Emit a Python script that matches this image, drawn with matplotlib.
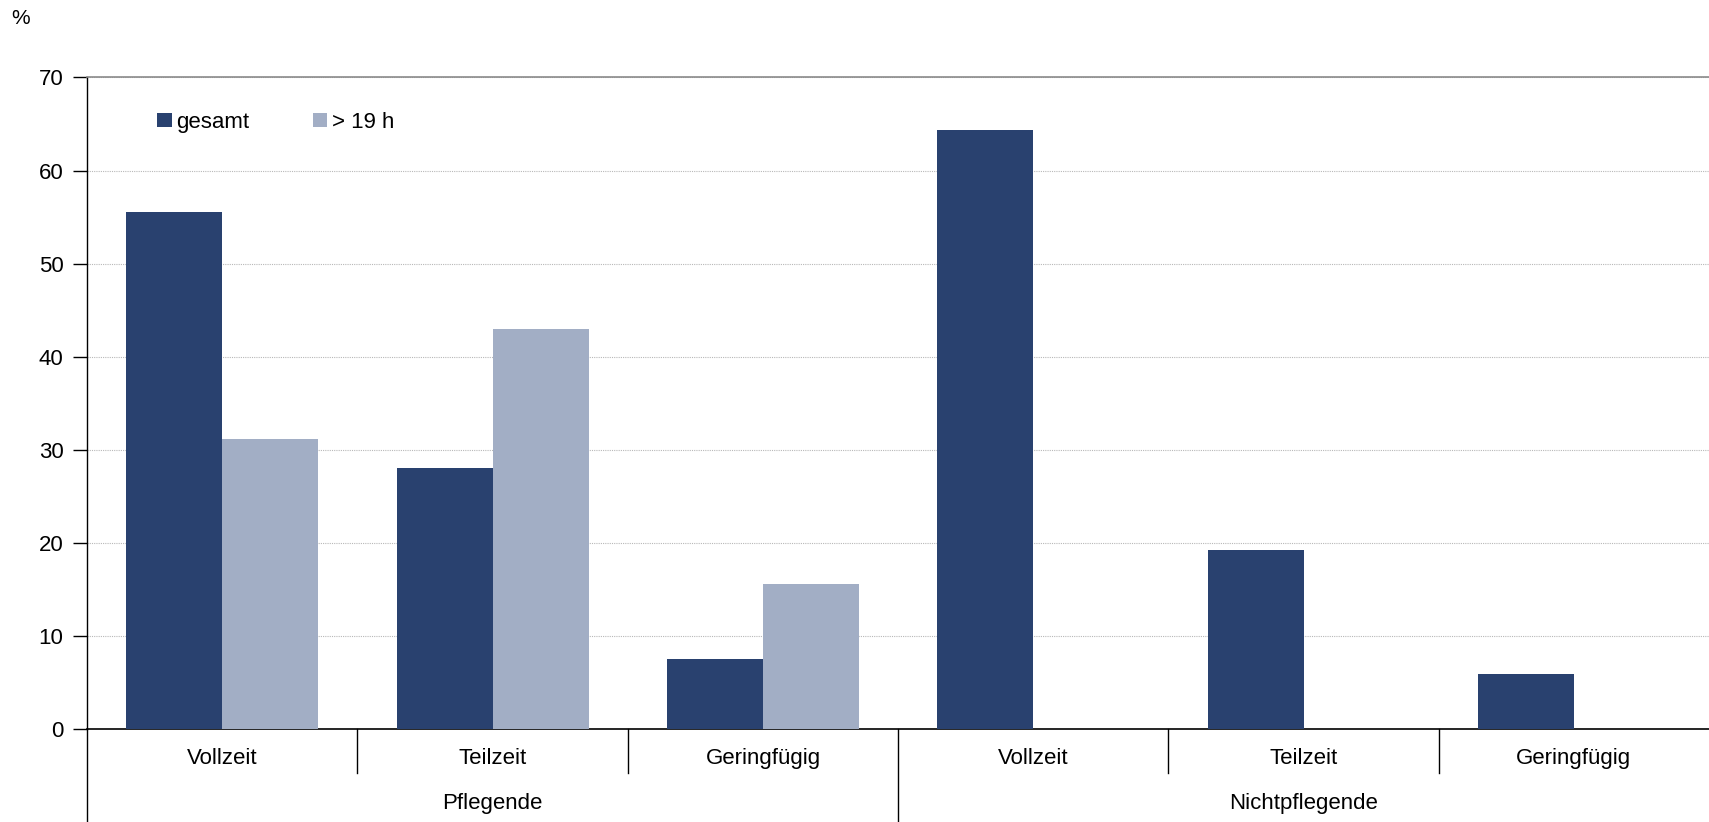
import matplotlib.pyplot as plt
import matplotlib.transforms as mtransforms
import numpy as np

plt.rcParams['font.family'] = ['Liberation Sans', 'DejaVu Sans']

groups = ['Pflegende', 'Nichtpflegende']
categories = ['Vollzeit', 'Teilzeit', 'Geringfügig']
gesamt = [55.6, 28.1, 7.6, 64.3, 19.3, 5.9]
ueber19 = [31.2, 43.0, 15.6, None, None, None]
series_names = ['gesamt', '> 19 h']

dark = '#29416f'
light = '#a2aec5'

fig = plt.figure(figsize=(17.09, 8.22), dpi=100)
ax = fig.add_axes([80 / 1568, 1 - 669 / 754, 1 - 80 / 1568, 598 / 754])

n = len(gesamt)
x = np.arange(n) + 0.5
w = 88 / 248
ax.bar(x - w / 2, gesamt, width=w, color=dark, label=series_names[0], zorder=3)
x2 = [xi + w / 2 for xi, v in zip(x, ueber19) if v is not None]
v2 = [v for v in ueber19 if v is not None]
ax.bar(x2, v2, width=w, color=light, label=series_names[1], zorder=3)

ax.set_xlim(0, n)
ax.set_ylim(0, 70)
ax.set_yticks(range(0, 71, 10))
ax.tick_params(axis='y', length=10, width=1, labelsize=16, pad=7, direction='out')
ax.set_xticks([])
ax.yaxis.grid(True, linestyle=(0, (1, 1)), color='#b8b8b8', linewidth=0.8, zorder=0)

ax.spines['right'].set_visible(False)
ax.spines['top'].set_color('#8a8a8a')
ax.spines['top'].set_linewidth(1.2)
ax.spines['left'].set_linewidth(1)
ax.spines['bottom'].set_linewidth(1.2)

trans = mtransforms.blended_transform_factory(ax.transData, ax.transAxes)
low = -(754 - 669) / 598
# left spine extension below the axis
ax.plot([0, 0], [0, low], transform=trans, color='black', lw=1, clip_on=False)
# category separators
for i in range(1, n):
    if i == len(categories):
        ax.plot([i, i], [0, low], transform=trans, color='black', lw=1, clip_on=False)
    else:
        ax.plot([i, i], [0, -40 / 598], transform=trans, color='black', lw=1, clip_on=False)

labels = categories * len(groups)
for xi, lab in zip(x, labels):
    ax.text(xi, -27 / 598, lab, transform=trans, ha='center', va='center', fontsize=16)
for gi, g in enumerate(groups):
    gx = gi * len(categories) + len(categories) / 2
    ax.text(gx, -68 / 598, g, transform=trans, ha='center', va='center', fontsize=16)

fig.text(10 / 1568, 1 - 17 / 754, '%', fontsize=15, ha='left', va='center')

ax.legend(loc='upper left', bbox_to_anchor=(0.031, 0.978), ncol=2, frameon=False,
          fontsize=16, handlelength=0.65, handleheight=0.65, handletextpad=0.2,
          columnspacing=2.85)

fig.savefig('out.png', dpi=100)
